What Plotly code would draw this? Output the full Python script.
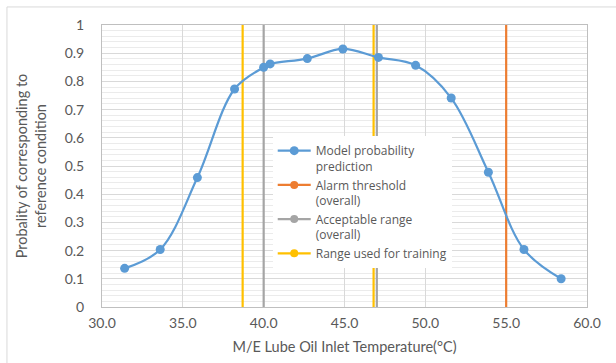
import plotly.graph_objects as go

# Data
temperature = [31.4, 33.6, 35.9, 38.2, 40.0, 40.4, 42.7, 44.9, 47.1, 49.4, 51.6, 53.9, 56.1, 58.4]
probability = [0.137, 0.204, 0.459, 0.773, 0.850, 0.862, 0.881, 0.915, 0.885, 0.857, 0.741, 0.478, 0.204, 0.100]
alarm_threshold = [55.0]
acceptable_range = [40.0, 47.0]
training_range = [38.7, 46.8]
y_span = [0, 1]
x_ticks = [30, 35, 40, 45, 50, 55, 60]

BLUE = "#5B9BD5"
ORANGE = "#ED7D31"
GRAY = "#A5A5A5"
YELLOW = "#FFC000"
TXT = "#595959"
FONT = "Lato, 'Open Sans', sans-serif"
LEG_FONT = "'Open Sans', Lato, sans-serif"

fig = go.Figure()

def vlines(xs, color, group):
    for x in xs:
        fig.add_trace(go.Scatter(
            x=[x, x], y=y_span, mode="lines",
            line=dict(color=color, width=2.2),
            showlegend=False, legendgroup=group, hoverinfo="skip"))

vlines(alarm_threshold, ORANGE, "alarm")
vlines(acceptable_range, GRAY, "acc")
vlines(training_range, YELLOW, "train")

fig.add_trace(go.Scatter(
    x=temperature, y=probability, mode="lines+markers",
    line=dict(color=BLUE, width=2.2, shape="spline", smoothing=1.0),
    marker=dict(color=BLUE, size=9),
    name="Model probability<br>prediction", legendrank=1))

for name, color, group, rank in [
    ("Alarm threshold<br>(overall)", ORANGE, "alarm", 2),
    ("Acceptable range<br>(overall)", GRAY, "acc", 3),
    ("Range used for training", YELLOW, "train", 4),
]:
    fig.add_trace(go.Scatter(
        x=[None], y=[None], mode="lines+markers",
        line=dict(color=color, width=2.2),
        marker=dict(color=color, size=8),
        name=name, legendgroup=group, legendrank=rank))

fig.update_layout(
    width=616, height=363,
    margin=dict(l=102, r=29, t=25, b=56, autoexpand=False),
    paper_bgcolor="white", plot_bgcolor="white",
    font=dict(family=FONT, size=14, color=TXT),
    legend=dict(
        x=0.352, y=0.605, xanchor="left", yanchor="top",
        bgcolor="white", borderwidth=0,
        font=dict(family=LEG_FONT, size=12, color=TXT),
        valign="top", tracegroupgap=0, itemwidth=33,
    ),
    shapes=[dict(type="rect", xref="paper", yref="paper",
                 x0=-0.196, x1=1.08, y0=-0.25, y1=1.064,
                 line=dict(color="#D9D9D9", width=1), fillcolor="rgba(0,0,0,0)",
                 layer="below")],
)

fig.update_xaxes(
    range=[30, 60], tickvals=x_ticks, tickformat=".1f",
    showgrid=True, gridcolor="#D9D9D9", gridwidth=1,
    showline=True, linecolor="#BFBFBF", linewidth=1, mirror=True,
    ticks="", ticklabelstandoff=3, zeroline=False, automargin=False,
    title=dict(text="M/E Lube Oil Inlet Temperature(°C)", standoff=12,
               font=dict(size=14.5, color=TXT)),
    tickfont=dict(size=14, color=TXT),
)
fig.update_yaxes(
    range=[0, 1], dtick=0.1,
    showgrid=True, gridcolor="#D9D9D9", gridwidth=1,
    minor=dict(dtick=0.02, showgrid=True, gridcolor="#EBEBEB", gridwidth=1),
    showline=True, linecolor="#BFBFBF", linewidth=1, mirror=True,
    ticks="", ticklabelstandoff=14, zeroline=False, automargin=False,
    title=dict(text="Probality of corresponding to<br>reference condition", standoff=14,
               font=dict(size=14.5, color=TXT)),
    tickfont=dict(size=14, color=TXT),
)

fig.write_html(
    "out.html",
    config={"displayModeBar": False},
    post_script="document.body.style.margin='0';document.body.style.overflow='hidden';",
)
